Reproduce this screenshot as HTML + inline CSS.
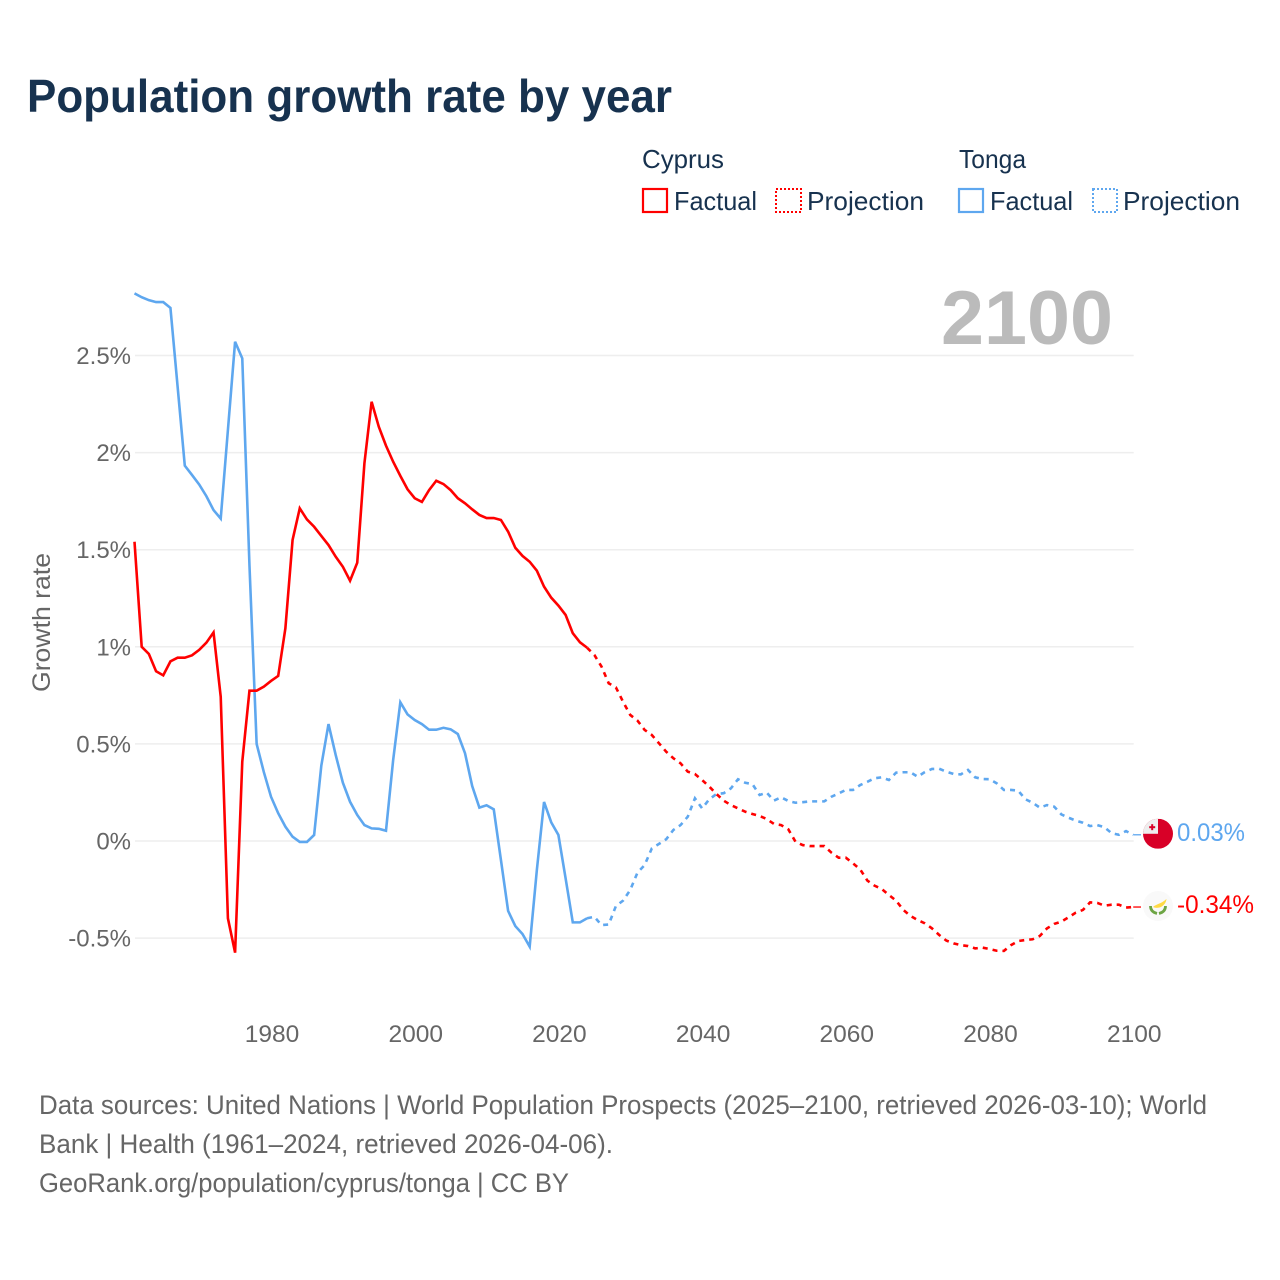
<!DOCTYPE html>
<html lang="en">
<head>
<meta charset="utf-8">
<title>Population growth rate by year</title>
<style>
html,body{margin:0;padding:0;background:#fff;}
svg{display:block;}
text{font-family:"Liberation Sans",sans-serif;}
</style>
</head>
<body>
<svg id="chart" xmlns="http://www.w3.org/2000/svg" width="1280" height="1280" viewBox="0 0 1280 1280">
  <rect width="1280" height="1280" fill="#fff"/>
  <text x="27" y="112" font-size="46" font-weight="700" fill="#17324f" textLength="645" lengthAdjust="spacingAndGlyphs">Population growth rate by year</text>

  <g font-size="26" fill="#17324f">
    <text x="642" y="168" textLength="82" lengthAdjust="spacingAndGlyphs">Cyprus</text>
    <text x="959" y="168" textLength="67" lengthAdjust="spacingAndGlyphs">Tonga</text>
    <rect x="643" y="189" width="24" height="23" fill="none" stroke="#ff0000" stroke-width="2.2"/>
    <text x="674" y="210" textLength="83" lengthAdjust="spacingAndGlyphs">Factual</text>
    <rect x="776" y="189" width="25" height="23" fill="none" stroke="#ff0000" stroke-width="2" stroke-dasharray="2 2"/>
    <text x="807" y="210" textLength="117" lengthAdjust="spacingAndGlyphs">Projection</text>
    <rect x="959" y="189" width="24" height="23" fill="none" stroke="#5ea7ef" stroke-width="2.2"/>
    <text x="990" y="210" textLength="83" lengthAdjust="spacingAndGlyphs">Factual</text>
    <rect x="1093" y="189" width="24" height="23" fill="none" stroke="#5ea7ef" stroke-width="2" stroke-dasharray="2 2"/>
    <text x="1123" y="210" textLength="117" lengthAdjust="spacingAndGlyphs">Projection</text>
  </g>

  <text x="941" y="344" font-size="76" font-weight="700" fill="#bbbbbb" textLength="172" lengthAdjust="spacingAndGlyphs">2100</text>

  <g id="grid"></g>
  <g id="yTicks"></g>
  <g id="xTicks"></g>
  <text transform="translate(50,692) rotate(-90)" font-size="25" fill="#666666" textLength="139" lengthAdjust="spacingAndGlyphs">Growth rate</text>
  <g id="series"></g>

  <defs>
    <clipPath id="flagClip"><circle cx="0" cy="0" r="15"/></clipPath>
  </defs>
  <g id="flagTonga">
    <g clip-path="url(#flagClip)">
      <rect x="-15" y="-15" width="30" height="30" fill="#d80027"/>
      <rect x="-15" y="-15" width="15" height="15" fill="#eeeeee"/>
      <rect x="-8.8" y="-7.6" width="6" height="2" fill="#d80027"/>
      <rect x="-6.8" y="-9.6" width="2" height="6" fill="#d80027"/>
    </g>
  </g>
  <g id="flagCyprus">
    <circle cx="0" cy="0" r="15" fill="#f9f9f9"/>
    <path d="M-5,1 C-2,-2 3,-2 8.5,-7 C8,-3 6,-1 3,1 C0,2.2 -3,2 -5,1 Z" fill="#ffda44"/>
    <path d="M-7.5,0 C-7.5,4 -5,6.5 -1,7.5 M1,7.5 C5,6.5 7.5,4 7.5,0" fill="none" stroke="#6da544" stroke-width="2.8"/>
  </g>
  <text id="labelTonga" x="1177" font-size="25" fill="#5ea7ef" textLength="68" lengthAdjust="spacingAndGlyphs"></text>
  <text id="labelCyprus" x="1177" font-size="25" fill="#ff0000" textLength="77" lengthAdjust="spacingAndGlyphs"></text>

  <g font-size="27" fill="#666666">
    <text x="39" y="1114" textLength="1168" lengthAdjust="spacingAndGlyphs">Data sources: United Nations | World Population Prospects (2025–2100, retrieved 2026-03-10); World</text>
    <text x="39" y="1153" textLength="574" lengthAdjust="spacingAndGlyphs">Bank | Health (1961–2024, retrieved 2026-04-06).</text>
    <text x="39" y="1192" textLength="530" lengthAdjust="spacingAndGlyphs">GeoRank.org/population/cyprus/tonga | CC BY</text>
  </g>
</svg>
<script>
const factualStartYear = 1961;
const projectionStartYear = 2024;
const xTickYears = [1980, 2000, 2020, 2040, 2060, 2080, 2100];
const yTickValues = [2.5, 2, 1.5, 1, 0.5, 0, -0.5];
const yTickLabels = ["2.5%", "2%", "1.5%", "1%", "0.5%", "0%", "-0.5%"];
const cyprusEndLabel = "-0.34%";
const tongaEndLabel = "0.03%";

const cyprusFactual = [1.541,1.0,0.963,0.874,0.853,0.925,0.944,0.944,0.956,0.984,1.021,1.074,0.743,-0.398,-0.575,0.408,0.774,0.774,0.795,0.824,0.85,1.095,1.55,1.713,1.656,1.618,1.571,1.524,1.464,1.412,1.34,1.433,1.945,2.262,2.133,2.036,1.953,1.88,1.811,1.765,1.746,1.807,1.855,1.838,1.807,1.765,1.739,1.708,1.679,1.663,1.663,1.653,1.593,1.51,1.468,1.438,1.392,1.31,1.253,1.212,1.164,1.07,1.023,0.995];
const cyprusProjection = [0.995,0.958,0.898,0.812,0.791,0.717,0.649,0.62,0.572,0.546,0.503,0.46,0.426,0.40,0.357,0.345,0.314,0.28,0.242,0.208,0.185,0.168,0.151,0.139,0.129,0.113,0.088,0.082,0.06,-0.004,-0.021,-0.026,-0.026,-0.026,-0.06,-0.086,-0.086,-0.115,-0.146,-0.204,-0.23,-0.247,-0.278,-0.307,-0.355,-0.386,-0.407,-0.424,-0.45,-0.484,-0.513,-0.527,-0.536,-0.541,-0.553,-0.549,-0.556,-0.565,-0.566,-0.536,-0.515,-0.51,-0.506,-0.489,-0.45,-0.427,-0.415,-0.393,-0.369,-0.355,-0.316,-0.319,-0.333,-0.328,-0.328,-0.343,-0.34];
const tongaFactual = [2.82,2.80,2.785,2.775,2.775,2.745,2.34,1.933,1.885,1.836,1.776,1.704,1.66,2.116,2.571,2.485,1.42,0.5,0.355,0.228,0.143,0.074,0.022,-0.005,-0.005,0.031,0.388,0.602,0.443,0.30,0.202,0.134,0.082,0.065,0.063,0.053,0.417,0.714,0.652,0.623,0.602,0.573,0.573,0.583,0.575,0.551,0.452,0.283,0.172,0.184,0.163,-0.098,-0.36,-0.438,-0.479,-0.544,-0.149,0.201,0.096,0.031,-0.192,-0.419,-0.419,-0.398];
const tongaProjection = [-0.398,-0.39,-0.433,-0.43,-0.335,-0.307,-0.252,-0.163,-0.124,-0.038,-0.015,0.009,0.057,0.082,0.125,0.22,0.168,0.215,0.242,0.246,0.271,0.318,0.30,0.293,0.237,0.249,0.208,0.225,0.206,0.197,0.20,0.204,0.204,0.204,0.228,0.245,0.263,0.263,0.288,0.305,0.323,0.328,0.314,0.352,0.354,0.354,0.331,0.355,0.371,0.372,0.357,0.345,0.343,0.366,0.328,0.319,0.318,0.297,0.263,0.263,0.259,0.215,0.197,0.172,0.185,0.177,0.137,0.12,0.105,0.094,0.077,0.082,0.071,0.04,0.032,0.051,0.032];

const SVG_NS = "http://www.w3.org/2000/svg";
const xScale = function (year) { return 134.5 + (year - 1961) * 7.185; };
const yScale = function (value) { return 841 - value * 194.2; };

function make(tag, parent) {
  const el = document.createElementNS(SVG_NS, tag);
  parent.appendChild(el);
  return el;
}

const grid = document.getElementById("grid");
const yTicks = document.getElementById("yTicks");
const xTicks = document.getElementById("xTicks");
const seriesGroup = document.getElementById("series");

yTickValues.forEach(function (value, i) {
  const line = make("line", grid);
  
  
  line.setAttribute("x1", 135);
  line.setAttribute("x2", xScale(2100) + 0.5);
  line.setAttribute("y1", yScale(value));
  line.setAttribute("y2", yScale(value));
  line.setAttribute("stroke", "#eeeeee");
  line.setAttribute("stroke-width", "1.5");

  const label = make("text", yTicks);
  
  
  label.setAttribute("x", 131);
  label.setAttribute("y", yScale(value) + 8.5);
  label.setAttribute("text-anchor", "end");
  label.setAttribute("font-size", "24");
  label.setAttribute("fill", "#666666");
  label.textContent = yTickLabels[i];
});

xTickYears.forEach(function (year) {
  const label = make("text", xTicks);
  
  
  label.setAttribute("x", xScale(year) + 1);
  label.setAttribute("y", 1042);
  label.setAttribute("text-anchor", "middle");
  label.setAttribute("font-size", "24.5");
  label.setAttribute("fill", "#666666");
  label.textContent = String(year);
});

function drawSeries(values, startYear, color, dashed, name) {
  const path = make("polyline", seriesGroup);
  
  
  const points = values.map(function (v, i) {
    return xScale(startYear + i).toFixed(2) + "," + yScale(v).toFixed(2);
  }).join(" ");
  path.setAttribute("points", points);
  path.setAttribute("fill", "none");
  path.setAttribute("stroke", color);
  path.setAttribute("stroke-width", "2.6");
  if (dashed) path.setAttribute("stroke-dasharray", "5 5");
}

drawSeries(tongaFactual, factualStartYear, "#5ea7ef", false, "tonga-factual-line");
drawSeries(tongaProjection, projectionStartYear, "#5ea7ef", true, "tonga-projection-line");
drawSeries(cyprusFactual, factualStartYear, "#ff0000", false, "cyprus-factual-line");
drawSeries(cyprusProjection, projectionStartYear, "#ff0000", true, "cyprus-projection-line");

function drawEnd(values, color, flagId, labelId, text, name) {
  const last = yScale(values[values.length - 1]);
  const leader = make("line", seriesGroup);
  
  
  leader.setAttribute("x1", xScale(2100));
  leader.setAttribute("x2", 1141);
  leader.setAttribute("y1", last);
  leader.setAttribute("y2", last);
  leader.setAttribute("stroke", color);
  leader.setAttribute("stroke-width", "1.3");
  document.getElementById(flagId).setAttribute("transform", "translate(1158," + (last - 1) + ")");
  const label = document.getElementById(labelId);
  label.setAttribute("y", last + 6);
  label.textContent = text;
}

drawEnd(tongaProjection, "#5ea7ef", "flagTonga", "labelTonga", tongaEndLabel, "tonga-leader-line");
drawEnd(cyprusProjection, "#ff0000", "flagCyprus", "labelCyprus", cyprusEndLabel, "cyprus-leader-line");
</script>
</body>
</html>
